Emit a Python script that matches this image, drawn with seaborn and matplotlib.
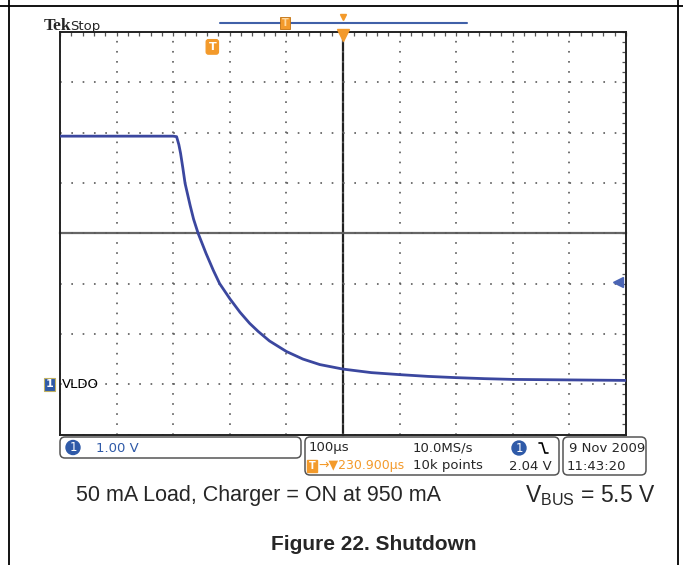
import numpy as np
import pandas as pd
import matplotlib.pyplot as plt
import seaborn as sns
from matplotlib.patches import FancyBboxPatch, Circle
from matplotlib.ticker import MultipleLocator
from matplotlib import transforms

# VLDO trace (time: µs, 0 = screen centre)
time_us = [-500, -400, -300, -294, -290, -287, -283, -279, -270, -264, -256,
           -242, -229, -218, -200, -182, -165, -150, -130, -100, -71, -41,
           0, 50, 100, 150, 200, 250, 300, 350, 400, 450, 500]
vldo_v = [4.93, 4.93, 4.93, 4.92, 4.76, 4.59, 4.30, 3.99, 3.55, 3.28, 3.00,
          2.60, 2.26, 2.00, 1.70, 1.43, 1.21, 1.05, 0.86, 0.65, 0.50, 0.39,
          0.30, 0.23, 0.19, 0.155, 0.13, 0.11, 0.095, 0.09, 0.085, 0.08, 0.075]

"""Scope settings"""
volts_per_div = 1.0
time_per_div = 100
ground_div = -3          # ground marker position, divisions from centre
trigger_level = 2.04
trigger_pos = -230.9

ch_label = "VLDO"
scale_text = "1.00 V"
horiz_text = "100µs"
rate_text = "10.0MS/s"
points_text = "10k points"
trig_text = "230.900µs"
trig_level_text = "2.04 V"
date_text = "9 Nov 2009"
time_text = "11:43:20"
caption = "50 mA Load, Charger = ON at 950 mA"
vbus_text = r"V$_\mathregular{BUS}$ = 5.5 V"
title = "Figure 22. Shutdown"

trace_color = "#3b479f"
ch_blue = "#2f5aa8"
orange = "#f39a2b"
dot_color = "#5a5a5a"

sns.set_style("white")
plt.rcParams['font.family'] = ['DejaVu Sans']

W, H = 683, 565
fig = plt.figure(figsize=(W / 100, H / 100), dpi=100)

"""Graticule axes"""
x0, x1, y0, y1 = 60, 626, 32, 434.5
ax = fig.add_axes([x0 / W, 1 - y1 / H, (x1 - x0) / W, (y1 - y0) / H])
ax.set_facecolor('none')
ax.set_xlim(-5 * time_per_div, 5 * time_per_div)
ax.set_ylim((-ground_div - 4) * volts_per_div, (-ground_div + 4) * volts_per_div)

ax.xaxis.set_major_locator(MultipleLocator(time_per_div))
ax.xaxis.set_minor_locator(MultipleLocator(time_per_div / 5))
ax.yaxis.set_major_locator(MultipleLocator(volts_per_div))
ax.yaxis.set_minor_locator(MultipleLocator(volts_per_div / 5))
ax.tick_params(which='both', direction='in', top=True, right=True, length=3,
               width=0.9, color='#555555', labelbottom=False, labelleft=False)

# dotted graticule: one dot every 1/5 division
grid_lw = 1.2
dot_x = (x1 - x0) / 10 / 5 * 0.72     # pt between dots along horizontal lines
dot_y = (y1 - y0) / 8 / 5 * 0.72      # pt between dots along vertical lines
ax.xaxis.grid(True, which='major', color=dot_color, linewidth=grid_lw,
              linestyle=(0, (1.0, dot_y / grid_lw - 1.0)))
ax.yaxis.grid(True, which='major', color=dot_color, linewidth=grid_lw,
              linestyle=(0, (1.0, dot_x / grid_lw - 1.0)))
for s in ax.spines.values():
    s.set_color('#222222')
    s.set_linewidth(1.4)

"""Centre cross with ticks"""
ax2 = fig.add_axes(ax.get_position(), facecolor='none')
ax2.set_xlim(ax.get_xlim())
ax2.set_ylim(ax.get_ylim())
ax2.spines['top'].set_visible(False)
ax2.spines['right'].set_visible(False)
ax2.spines['left'].set_position(('data', 0))
ax2.spines['bottom'].set_position(('data', -ground_div * volts_per_div))
ax2.spines['left'].set_color('#222222')
ax2.spines['left'].set_linewidth(1.6)
ax2.spines['bottom'].set_color('#666666')
ax2.spines['bottom'].set_linewidth(1.6)
ax2.xaxis.set_major_locator(MultipleLocator(time_per_div / 5))
ax2.yaxis.set_major_locator(MultipleLocator(volts_per_div / 5))
ax2.tick_params(axis='x', direction='inout', length=6, width=1, color='#666666', labelbottom=False)
ax2.tick_params(axis='y', direction='inout', length=6, width=1, color='#222222', labelleft=False)
ax2.set_zorder(0)
ax.set_zorder(1)

"""Trace"""
df = pd.DataFrame({'t': time_us, 'v': vldo_v})
sns.lineplot(data=df, x='t', y='v', ax=ax, color=trace_color, linewidth=2.0, zorder=5)
ax.set_xlabel('')
ax.set_ylabel('')

"""Markers tied to the data"""
ax_x = transforms.blended_transform_factory(ax.transAxes, ax.transData)
ax_y = transforms.blended_transform_factory(ax.transData, ax.transAxes)
ax.text(-0.012, 0, "1", transform=ax_x, ha='right', va='center', color='white',
        fontsize=8, fontweight='bold',
        bbox=dict(boxstyle='square,pad=0.15', fc=ch_blue, ec='#c0b060', lw=0.8))
ax.text(0.004, 0, ch_label, transform=ax_x, ha='left', va='center', color='black', fontsize=9.5)
ax.plot([0.985], [trigger_level], marker='<', ms=7, color='#4a64b4', transform=ax_x, clip_on=False)
ax.plot([0], [0.992], marker='v', ms=8, color=orange, transform=ax_y, clip_on=False, zorder=6)
ax.text(trigger_pos, 0.963, "T", transform=ax_y, ha='center', va='center', color='white',
        fontsize=8, fontweight='bold',
        bbox=dict(boxstyle='round,pad=0.2', fc=orange, ec=orange))

"""Pixel overlay for the scope frame and page text"""
ov = fig.add_axes([0, 0, 1, 1])
ov.set_xlim(0, W)
ov.set_ylim(H, 0)
ov.axis('off')
ov.set_zorder(3)

ov.plot([9, 9], [0, H], color='black', lw=1.3)
ov.plot([678, 678], [0, H], color='black', lw=1.3)
ov.plot([0, W], [6, 6], color='black', lw=1.3)

ov.text(44, 30, "Tek", family=['Liberation Serif', 'DejaVu Serif'], fontweight='bold',
        fontsize=12.5, va='baseline', ha='left')
ov.text(70, 30, "Stop", fontsize=9.5, va='baseline', ha='left')

# record bar
ov.plot([220, 467], [23, 23], color='#4060a8', lw=1.5)
ov.plot([343], [17], marker='v', ms=5, color=orange)
ov.text(285, 23, "T", ha='center', va='center', color='#ffd9a0', fontsize=7, fontweight='bold',
        bbox=dict(boxstyle='square,pad=0.15', fc=orange, ec='#c07010', lw=0.6))

# status boxes
for bx, by, bw, bh in [(60, 437, 241, 21), (305, 437, 254, 38), (563, 437, 83, 38)]:
    ov.add_patch(FancyBboxPatch((bx, by), bw, bh, boxstyle='round,pad=0,rounding_size=5',
                                fc='white', ec='#555555', lw=1.1))

fs = 9.5
ov.add_patch(Circle((73, 447.5), 7, color=ch_blue))
ov.text(73, 447.5, "1", color='white', ha='center', va='center', fontsize=8.5)
ov.text(96, 448, scale_text, color=ch_blue, ha='left', va='center', fontsize=fs)

ov.text(309, 448, horiz_text, ha='left', va='center', fontsize=fs)
ov.text(413, 448, rate_text, ha='left', va='center', fontsize=fs)
ov.add_patch(Circle((519, 448), 7, color=ch_blue))
ov.text(519, 448, "1", color='white', ha='center', va='center', fontsize=8.5)
ov.plot([539, 542, 545, 548], [443, 443, 453, 453], color='black', lw=1.2)

ov.text(312, 466, "T", ha='center', va='center', color='white', fontsize=7, fontweight='bold',
        bbox=dict(boxstyle='square,pad=0.15', fc=orange, ec=orange))
ov.text(318, 466, "\u2192\u25bc" + trig_text, color=orange, ha='left', va='center', fontsize=9)
ov.text(413, 466, points_text, ha='left', va='center', fontsize=fs)
ov.text(552, 466, trig_level_text, ha='right', va='center', fontsize=fs)

ov.text(607, 448, date_text, ha='center', va='center', fontsize=fs)
ov.text(567, 466, time_text, ha='left', va='center', fontsize=fs)

# captions
cap_font = ['Liberation Sans', 'DejaVu Sans']
ov.text(259, 496, caption, family=cap_font, fontsize=15.5, ha='center', va='center')
ov.text(590, 496, vbus_text, family=cap_font, fontsize=16.5, ha='center', va='center')
ov.text(374, 545, title, family=cap_font, fontsize=15, fontweight='bold', ha='center', va='center')

fig.savefig('out.png', dpi=100)
